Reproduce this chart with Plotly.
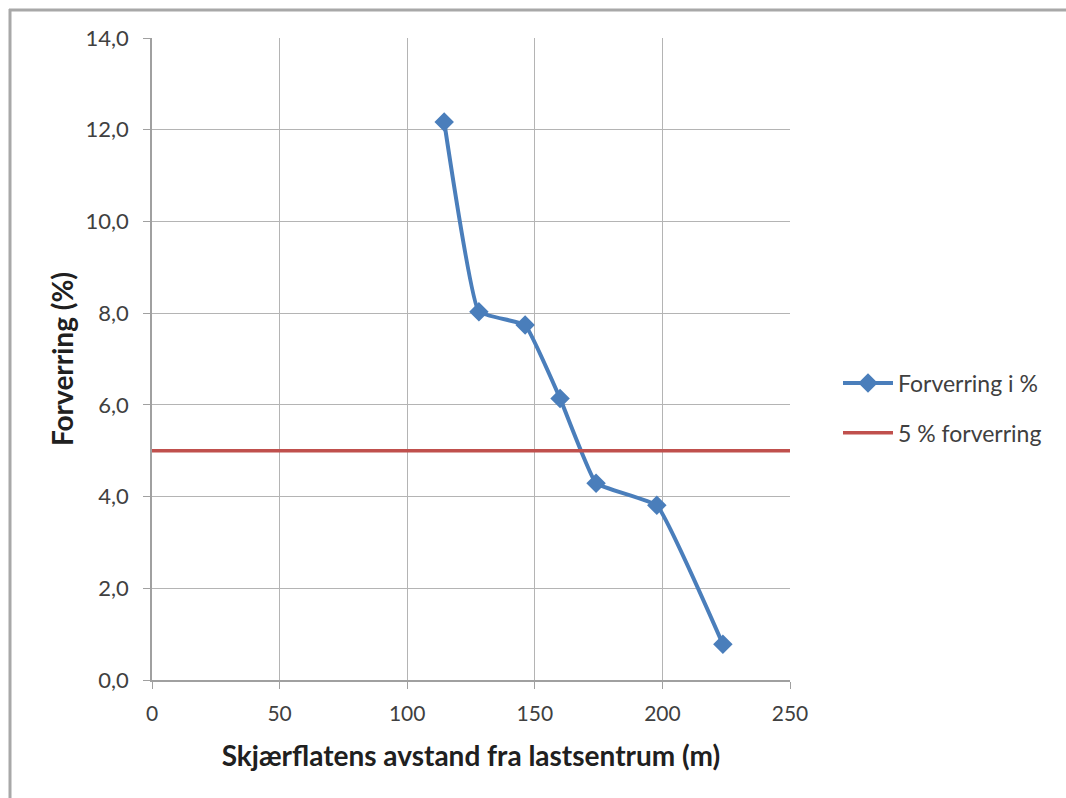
import plotly.graph_objects as go

# Distance of the shear plane from the load centre (m) and the resulting deterioration (%)
avstand = [114.5, 128.1, 146.2, 159.9, 174.0, 197.8, 223.7]
forverring = [12.17, 8.03, 7.74, 6.14, 4.29, 3.81, 0.78]

# 5 % threshold line across the full x range
grense_x = [0, 250]
grense_y = [5.0, 5.0]

x_ticks = [0, 50, 100, 150, 200, 250]
y_ticks = [0, 2, 4, 6, 8, 10, 12, 14]
y_ticktext = ["0,0", "2,0", "4,0", "6,0", "8,0", "10,0", "12,0", "14,0"]

W, H = 1066, 798
L, R, T, B = 152, 790, 38, 680

fig = go.Figure()
fig.add_trace(go.Scatter(
    x=avstand, y=forverring, mode="lines+markers", name="Forverring i %",
    line=dict(color="#4a7ebb", width=4, shape="spline", smoothing=0.3),
    marker=dict(symbol="diamond", size=15, color="#4a7ebb"),
    legendgroup="a",
))
fig.add_trace(go.Scatter(
    x=grense_x, y=grense_y, mode="lines", name="5 % forverring",
    line=dict(color="#c0504d", width=3.5),
    legendgroup="b",
))

def px_x(p):
    return (p - L) / (R - L)

def px_y(p):
    return (B - p) / (B - T)

# Light frame around the chart (left and top edges)
frame = dict(type="line", xref="paper", yref="paper",
             line=dict(color="#a8a8a8", width=3))
fig.add_shape(**frame, x0=px_x(10), x1=px_x(10), y0=px_y(9), y1=px_y(H + 5))
fig.add_shape(**frame, x0=px_x(9), x1=px_x(W + 20), y0=px_y(10), y1=px_y(10))

font_family = "Lato, 'Open Sans', sans-serif"
fig.update_layout(
    width=W, height=H,
    margin=dict(l=L, r=W - R, t=T, b=H - B),
    paper_bgcolor="white", plot_bgcolor="white",
    font=dict(family=font_family, color="#404040"),
    showlegend=True,
    legend=dict(x=px_x(838), y=px_y(408), xanchor="left", yanchor="middle",
                font=dict(size=23, color="#404040"), tracegroupgap=17,
                traceorder="grouped", itemwidth=50, bgcolor="rgba(0,0,0,0)"),
    xaxis=dict(
        range=[0, 250], tickvals=x_ticks, ticks="outside", ticklen=7,
        tickcolor="#a0a0a0", showgrid=True, gridcolor="#b4b4b4", gridwidth=1,
        showline=True, linecolor="#a0a0a0", linewidth=1.5, zeroline=False,
        tickfont=dict(size=21, color="#404040"), ticklabelstandoff=7,
        title=dict(text="<b>Skjærflatens avstand fra lastsentrum (m)</b>",
                   font=dict(size=28, color="#202020"), standoff=22),
    ),
    yaxis=dict(
        range=[0, 14], tickvals=y_ticks, ticktext=y_ticktext, ticks="outside",
        ticklen=7, tickcolor="#a0a0a0", showgrid=True, gridcolor="#b4b4b4",
        gridwidth=1, showline=True, linecolor="#a0a0a0", linewidth=1.5,
        zeroline=False, tickfont=dict(size=22, color="#404040"),
        ticklabelstandoff=10,
        title=dict(text="<b>Forverring (%)</b>",
                   font=dict(size=28, color="#202020"), standoff=4),
    ),
)

fig.write_html("out.html")
